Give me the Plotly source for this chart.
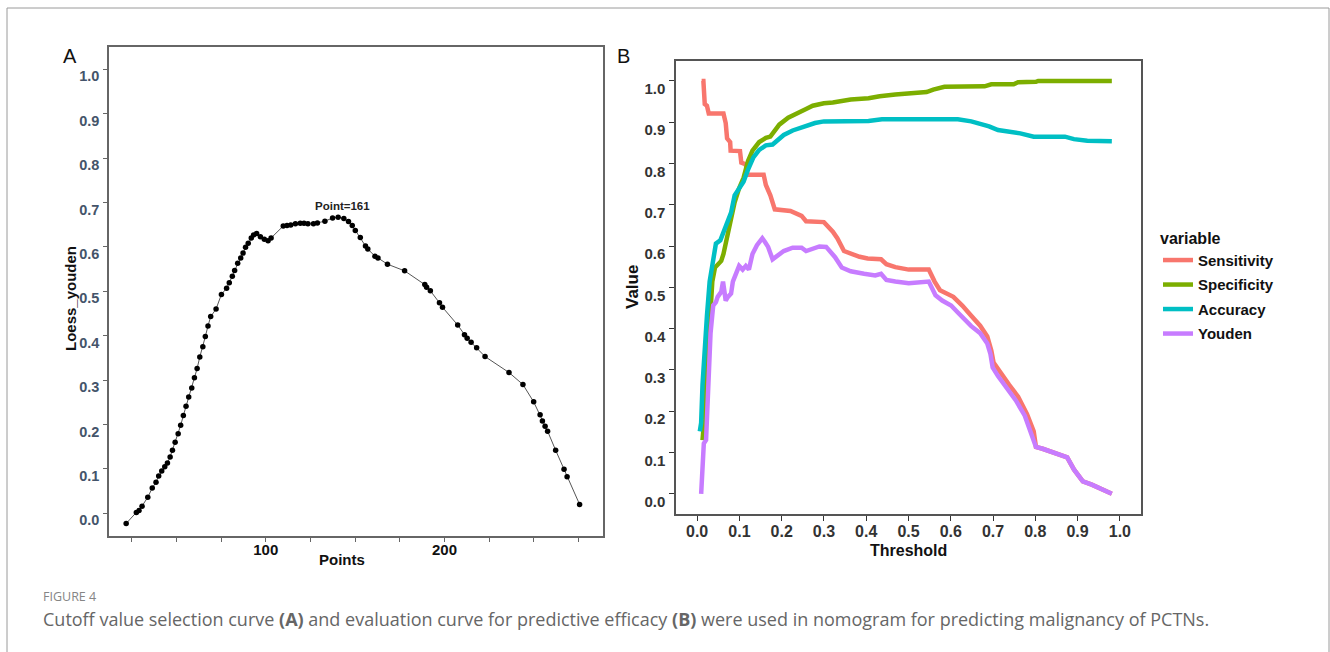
import plotly.graph_objects as go

# ---------------- Panel A data (Loess Youden vs Points) ----------------
a_points = [21.9, 27.6, 29.1, 30.8, 34.0, 36.5, 38.6, 40.1, 41.8, 43.5, 45.0, 46.5, 47.8,
            49.3, 51.0, 52.4, 53.9, 55.4, 56.9, 58.6, 60.1, 61.6, 63.1, 64.8, 66.2, 67.7,
            69.2, 72.2, 75.2, 78.1, 79.6, 81.3, 82.6, 84.3, 86.0, 87.3, 88.7, 90.2, 91.9,
            93.2, 94.9, 97.0, 99.2, 101.3, 103.0, 109.8, 111.9, 114.0, 116.6, 119.3, 121.4,
            123.6, 126.7, 128.9, 133.1, 137.4, 140.5, 143.7, 146.3, 148.4, 150.1, 152.9,
            155.8, 157.1, 161.1, 162.8, 168.1, 177.7, 189.0, 190.0, 192.1, 197.2, 198.9,
            207.4, 211.2, 212.7, 214.9, 218.0, 222.7, 236.1, 243.9, 249.9, 253.5, 254.8,
            256.3, 257.7, 262.2, 266.9, 268.6, 275.6]
a_youden = [-0.023, 0.002, 0.006, 0.016, 0.036, 0.057, 0.070, 0.084, 0.095, 0.105, 0.113,
            0.127, 0.142, 0.160, 0.179, 0.198, 0.220, 0.241, 0.262, 0.282, 0.305, 0.326,
            0.352, 0.375, 0.398, 0.422, 0.443, 0.460, 0.493, 0.507, 0.519, 0.534, 0.547,
            0.563, 0.575, 0.586, 0.599, 0.608, 0.620, 0.627, 0.630, 0.623, 0.617, 0.614,
            0.620, 0.647, 0.648, 0.649, 0.652, 0.653, 0.653, 0.652, 0.652, 0.654, 0.658,
            0.665, 0.667, 0.664, 0.657, 0.648, 0.637, 0.621, 0.602, 0.595, 0.579, 0.575,
            0.561, 0.546, 0.515, 0.509, 0.501, 0.474, 0.464, 0.424, 0.402, 0.394, 0.385,
            0.373, 0.353, 0.317, 0.290, 0.251, 0.222, 0.208, 0.196, 0.185, 0.142, 0.099,
            0.082, 0.020]
a_peak_label = "Point=161"
a_peak_x, a_peak_y = 142.7, 0.691
a_xticks = [25, 50, 75, 100, 125, 150, 175, 200, 225, 250, 275]
a_xticktext = ["", "", "", "100", "", "", "", "200", "", "", ""]
a_yticks = [0.0, 0.1, 0.2, 0.3, 0.4, 0.5, 0.6, 0.7, 0.8, 0.9, 1.0]

# ---------------- Panel B data (threshold curves) ----------------
sens_x = [0.0106, 0.0148, 0.018, 0.0232, 0.0275, 0.0623, 0.0676, 0.0708, 0.0781, 0.0792,
          0.1014, 0.1045, 0.1151, 0.1183, 0.1573, 0.1626, 0.1732, 0.1837, 0.2207, 0.2471,
          0.2577, 0.2999, 0.321, 0.3316, 0.3474, 0.3633, 0.3844, 0.4034, 0.4351, 0.4477,
          0.4689, 0.5005, 0.548, 0.5618, 0.5745, 0.6061, 0.6272, 0.6484, 0.6695, 0.6864,
          0.6959, 0.7012, 0.717, 0.7381, 0.7593, 0.7804, 0.7962, 0.8015, 0.8173, 0.8384,
          0.8754, 0.8913, 0.9124, 0.9335, 0.9599, 0.981]
sens_y = [1.0, 1.0, 0.944, 0.940, 0.921, 0.921, 0.898, 0.861, 0.852, 0.831,
          0.830, 0.802, 0.798, 0.773, 0.773, 0.748, 0.723, 0.689, 0.685, 0.673,
          0.660, 0.658, 0.635, 0.619, 0.588, 0.581, 0.574, 0.570, 0.568, 0.556,
          0.549, 0.543, 0.543, 0.514, 0.493, 0.477, 0.456, 0.431, 0.407, 0.381,
          0.347, 0.318, 0.293, 0.264, 0.235, 0.193, 0.151, 0.1135, 0.109, 0.101,
          0.088, 0.059, 0.030, 0.022, 0.011, 0.0]

spec_x = [0.0127, 0.0169, 0.0211, 0.0253, 0.0306, 0.0359, 0.0422, 0.0486, 0.057, 0.0623,
          0.0676, 0.0729, 0.0803, 0.0887, 0.0993, 0.1098, 0.1204, 0.1309, 0.1468, 0.1626,
          0.1732, 0.1869, 0.1943, 0.2154, 0.2365, 0.2577, 0.2735, 0.2999, 0.321, 0.3421,
          0.3633, 0.4055, 0.4319, 0.4689, 0.5005, 0.5428, 0.5586, 0.585, 0.68, 0.6959,
          0.7487, 0.7593, 0.8015, 0.8068, 0.981]
spec_y = [0.130, 0.180, 0.264, 0.347, 0.431, 0.514, 0.548, 0.556, 0.564, 0.581,
          0.606, 0.631, 0.664, 0.706, 0.740, 0.765, 0.806, 0.831, 0.852, 0.862,
          0.865, 0.883, 0.894, 0.911, 0.923, 0.932, 0.940, 0.946, 0.948, 0.952,
          0.955, 0.958, 0.963, 0.967, 0.969, 0.973, 0.979, 0.986, 0.987, 0.992,
          0.992, 0.997, 0.998, 1.0, 1.0]

acc_x = [0.0063, 0.0095, 0.0127, 0.0169, 0.0232, 0.0296, 0.038, 0.0444, 0.0549, 0.0623,
         0.0697, 0.0803, 0.0887, 0.0993, 0.1098, 0.1204, 0.1331, 0.1468, 0.1626, 0.1785,
         0.189, 0.2049, 0.226, 0.2418, 0.2577, 0.2788, 0.2999, 0.4055, 0.4372, 0.5111,
         0.5533, 0.5956, 0.6167, 0.6484, 0.6695, 0.6906, 0.7117, 0.7328, 0.7645, 0.7962,
         0.8701, 0.8913, 0.9229, 0.981]
acc_y = [0.151, 0.172, 0.264, 0.347, 0.431, 0.514, 0.564, 0.606, 0.614, 0.635,
         0.648, 0.681, 0.723, 0.740, 0.756, 0.785, 0.815, 0.833, 0.844, 0.846,
         0.856, 0.869, 0.880, 0.886, 0.891, 0.898, 0.902, 0.903, 0.907, 0.907,
         0.908, 0.909, 0.907, 0.902, 0.896, 0.890, 0.881, 0.878, 0.873, 0.865,
         0.865, 0.859, 0.855, 0.854]

youd_x = [0.0095, 0.0127, 0.0158, 0.0211, 0.0232, 0.0275, 0.0317, 0.038, 0.0444, 0.0486,
          0.057, 0.0612, 0.0676, 0.0729, 0.0803, 0.0845, 0.094, 0.0993, 0.1077, 0.1151,
          0.1225, 0.1309, 0.1415, 0.1542, 0.1605, 0.1679, 0.1785, 0.1859, 0.1943, 0.2049,
          0.226, 0.2471, 0.2577, 0.2735, 0.2893, 0.3052, 0.3157, 0.3263, 0.3421, 0.3633,
          0.3949, 0.4213, 0.4351, 0.4477, 0.4689, 0.5005, 0.548, 0.5639, 0.5797, 0.6008,
          0.6167, 0.6325, 0.6484, 0.6695, 0.6864, 0.6938, 0.6991, 0.7117, 0.7328, 0.754,
          0.7751, 0.7941, 0.8015, 0.8173, 0.8384, 0.8754, 0.8913, 0.9124, 0.9335, 0.9599,
          0.981]
youd_y = [0.0, 0.055, 0.122, 0.130, 0.180, 0.280, 0.389, 0.456, 0.464, 0.477,
          0.489, 0.514, 0.468, 0.477, 0.485, 0.514, 0.539, 0.552, 0.543, 0.552,
          0.543, 0.581, 0.602, 0.619, 0.610, 0.598, 0.568, 0.573, 0.581, 0.588,
          0.596, 0.596, 0.588, 0.593, 0.599, 0.598, 0.585, 0.573, 0.548, 0.539,
          0.533, 0.529, 0.533, 0.518, 0.514, 0.510, 0.514, 0.481, 0.468, 0.456,
          0.439, 0.422, 0.406, 0.389, 0.364, 0.339, 0.306, 0.285, 0.255, 0.226,
          0.189, 0.139, 0.1135, 0.109, 0.101, 0.088, 0.059, 0.030, 0.022, 0.011,
          0.0]

b_series = [("Sensitivity", sens_x, sens_y, "#F8766D"),
            ("Specificity", spec_x, spec_y, "#7CAE00"),
            ("Accuracy", acc_x, acc_y, "#00BFC4"),
            ("Youden", youd_x, youd_y, "#C77CFF")]
b_ticks = [0.0, 0.1, 0.2, 0.3, 0.4, 0.5, 0.6, 0.7, 0.8, 0.9, 1.0]

caption_head = "FIGURE 4"
caption_text = ("Cutoff value selection curve <b>(A)</b> and evaluation curve for predictive "
                "efficacy <b>(B)</b> were used in nomogram for predicting malignancy of PCTNs.")

W, H = 1330, 652
def px(x): return x / W
def py(y): return 1 - y / H
def b(t): return f"<b>{t}</b>" if t else ""

fig = go.Figure()

# Panel A
fig.add_trace(go.Scatter(x=a_points, y=a_youden, mode="lines+markers",
                         line=dict(color="#555555", width=1),
                         marker=dict(color="#000000", size=5.5),
                         xaxis="x", yaxis="y", showlegend=False))

# Panel B
for name, xs, ys, col in b_series:
    fig.add_trace(go.Scatter(x=xs, y=ys, mode="lines", name=b(name), legendgroup=name,
                             line=dict(color=col, width=4.5),
                             xaxis="x2", yaxis="y2"))

fig.update_layout(
    width=W, height=H, margin=dict(l=0, r=0, t=0, b=0),
    paper_bgcolor="white", plot_bgcolor="white",
    font=dict(family="Liberation Sans", color="#222"),
    xaxis=dict(domain=[px(109), px(603)], range=[12.3, 288.7], anchor="y",
               tickvals=a_xticks, ticktext=[b(t) for t in a_xticktext], ticks="outside",
               ticklen=5, tickcolor="#666", tickwidth=1, showgrid=False, zeroline=False,
               showline=True, mirror=True, linecolor="#666", linewidth=1.5,
               ticklabelstandoff=-5,
               tickfont=dict(size=15, color="#111")),
    yaxis=dict(domain=[py(535.7), py(47.3)], range=[-0.0505, 1.0495], anchor="x",
               tickvals=a_yticks, ticktext=[b(f"{v:.1f}") for v in a_yticks],
               ticks="outside", ticklen=4, tickcolor="#666", showgrid=False,
               zeroline=False, showline=True, mirror=True, linecolor="#666", linewidth=1.5,
               ticklabelshift=7, ticklabelstandoff=1,
               tickfont=dict(size=14.5, color="#44546a")),
    xaxis2=dict(domain=[px(676), px(1141)], range=[-0.05, 1.05], anchor="y2",
                tickvals=b_ticks, ticktext=[b(f"{v:.1f}") for v in b_ticks],
                ticks="outside", ticklen=5, tickcolor="#333", showgrid=False,
                zeroline=False, showline=True, mirror=True, linecolor="#555", linewidth=1.5,
                ticklabelstandoff=-3,
                tickfont=dict(size=16, color="#333")),
    yaxis2=dict(domain=[py(514), py(60.7)], range=[-0.049, 1.049], anchor="x2",
                tickvals=b_ticks, ticktext=[b(f"{v:.1f}") for v in b_ticks],
                ticks="outside", ticklen=5, tickcolor="#333", showgrid=False,
                zeroline=False, showline=True, mirror=True, linecolor="#555", linewidth=1.5,
                ticklabelshift=8, ticklabelstandoff=1,
                tickfont=dict(size=15, color="#333")),
    legend=dict(x=px(1158), y=py(223), xanchor="left", yanchor="top",
                title=dict(text="<b>variable</b>", font=dict(size=16, color="#111")),
                font=dict(size=15, color="#111"),
                itemwidth=30, tracegroupgap=2, bgcolor="rgba(0,0,0,0)"),
)

ann = [
    dict(text="A", x=px(70), y=py(56), font=dict(size=20, color="#111")),
    dict(text="B", x=px(623), y=py(56), font=dict(size=20, color="#111")),
    dict(text="<b>Loess_youden</b>", x=px(70), y=py(299), textangle=-90,
         font=dict(size=15, color="#111")),
    dict(text="<b>Points</b>", x=px(342), y=py(559), font=dict(size=15, color="#111")),
    dict(text="<b>Value</b>", x=px(632), y=py(287), textangle=-90,
         font=dict(size=17, color="#111")),
    dict(text="<b>Threshold</b>", x=px(908), y=py(550), font=dict(size=16, color="#111")),
    dict(text=caption_head, x=px(41), y=py(596), xanchor="left",
         font=dict(size=12.5, color="#858585", family="Open Sans")),
    dict(text=caption_text, x=px(41), y=py(619), xanchor="left",
         font=dict(size=18, color="#666666", family="Open Sans")),
]
for a in ann:
    a.setdefault("xanchor", "center")
    fig.add_annotation(xref="paper", yref="paper", showarrow=False, yanchor="middle", **a)

fig.add_annotation(text=b(a_peak_label), x=a_peak_x, y=a_peak_y, xref="x", yref="y",
                   showarrow=False, font=dict(size=11.5, color="#222"))

fig.add_shape(type="rect", xref="paper", yref="paper", x0=px(7), x1=px(1329),
              y0=-0.2, y1=py(8), line=dict(color="#9a9a9a", width=1), layer="below")

fig.write_html("out.html", config={"displayModeBar": False},
               post_script="document.body.style.margin='0';document.body.style.overflow='hidden';")
